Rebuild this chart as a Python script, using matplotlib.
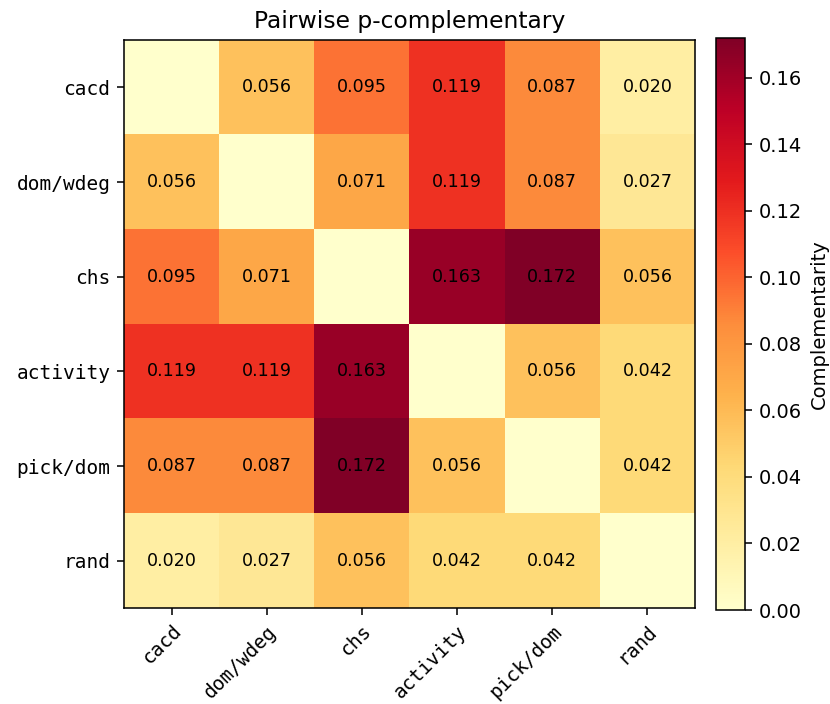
import numpy as np
import matplotlib
matplotlib.use("Agg")
import matplotlib.pyplot as plt

labels = ["cacd", "dom/wdeg", "chs", "activity", "pick/dom", "rand"]
row_cacd = [0.0, 0.056, 0.095, 0.119, 0.087, 0.020]
row_domwdeg = [0.056, 0.0, 0.071, 0.119, 0.087, 0.027]
row_chs = [0.095, 0.071, 0.0, 0.163, 0.172, 0.056]
row_activity = [0.119, 0.119, 0.163, 0.0, 0.056, 0.042]
row_pickdom = [0.087, 0.087, 0.172, 0.056, 0.0, 0.042]
row_rand = [0.020, 0.027, 0.056, 0.042, 0.042, 0.0]

M = np.array([row_cacd, row_domwdeg, row_chs, row_activity, row_pickdom, row_rand])
n = len(labels)

DPI = 140
W, H = 830, 704
fig = plt.figure(figsize=(W / DPI, H / DPI), dpi=DPI)
ax = fig.add_axes([124/W, 1-608/H, 571/W, 568/H])
cax = fig.add_axes([716/W, 1-610/H, 29/W, 572/H])

im = ax.imshow(M, cmap="YlOrRd", vmin=0, vmax=M.max(), aspect="auto")
for i in range(n):
    for j in range(n):
        if i != j:
            ax.text(j, i, f"{M[i, j]:.3f}", ha="center", va="center",
                    fontsize=9, color="black")

ax.set_xticks(range(n))
ax.set_yticks(range(n))
ax.set_xticklabels(labels, rotation=45, ha="right", rotation_mode="anchor",
                   family="DejaVu Sans Mono", fontsize=10)
ax.set_yticklabels(labels, family="DejaVu Sans Mono", fontsize=10)
ax.set_title("Pairwise p-complementary", fontsize=12)

cb = fig.colorbar(im, cax=cax)
cb.set_label("Complementarity", fontsize=10)
cb.ax.tick_params(labelsize=10)
cb.set_ticks([0, 0.02, 0.04, 0.06, 0.08, 0.10, 0.12, 0.14, 0.16])

fig.savefig("out.png", dpi=DPI)
